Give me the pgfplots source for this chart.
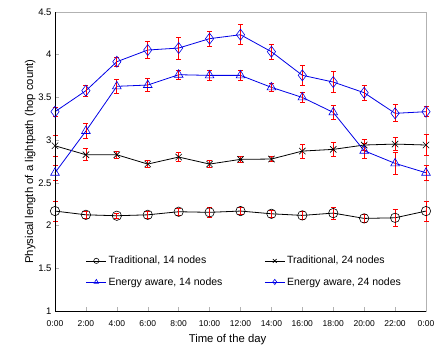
\documentclass[border=0pt]{standalone}
\usepackage{pgfplots}
\pgfplotsset{compat=1.18}
\usepackage{fontspec}
\setmainfont{Liberation Sans}
\definecolor{eblue}{RGB}{0,0,230}
\begin{document}
\begin{tikzpicture}
\begin{axis}[
  scale only axis, width=371pt, height=299pt,
  xmin=0, xmax=12, ymin=1, ymax=4.5,
  xtick={0,...,12},
  xticklabels={0:00,2:00,4:00,6:00,8:00,10:00,12:00,14:00,16:00,18:00,20:00,22:00,0:00},
  ytick={1,1.5,2,2.5,3,3.5,4,4.5},
  yticklabels={1,1.5,2,2.5,3,3.5,4,4.5},
  xtick pos=left, ytick pos=left,
  tick align=inside, major tick length=4pt,
  tick style={gray!60, line width=0.5pt},
  axis line style={gray!60, line width=0.6pt},
  ticklabel style={font=\fontsize{9.5}{10}\selectfont},
  xticklabel style={font=\fontsize{8.5}{10}\selectfont, yshift=-6pt},
  /pgf/number format/assume math mode=true,
  xlabel={Time of the day},
  ylabel={Physical length of a lightpath (hop count)},
  label style={font=\fontsize{11.3}{13}\selectfont},
  xlabel style={yshift=-1pt, xshift=-13pt},
  ylabel style={yshift=-4pt},
  clip=false,
  legend columns=2,
  legend cell align=left,
  legend style={draw=none, fill=none, at={(0.075,0.197)}, anchor=north west,
    font=\fontsize{10.5}{12}\selectfont, row sep=8pt,
    /tikz/every even column/.append style={column sep=40pt}},
  legend image code/.code={%
    \draw[mark repeat=2,mark phase=2,#1] plot coordinates {(0cm,0cm) (0.35cm,0cm) (0.7cm,0cm)};},
  legend image post style={mark size=2.6pt, line width=0.7pt},
  every axis plot/.append style={line width=0.8pt},
  error bars/error bar style={red, line width=0.8pt},
  error bars/error mark options={rotate=90, red, mark size=2.5pt, line width=0.8pt},
]
\addplot[black, mark=o, mark size=4.7pt, mark options={solid, line width=0.6pt},
  error bars/.cd, y dir=both, y explicit]
  table[x=x, y=y, y error=e] {
x y e
0 2.170 0.117
1 2.126 0.040
2 2.115 0.030
3 2.126 0.045
4 2.162 0.040
5 2.155 0.060
6 2.170 0.045
7 2.138 0.040
8 2.119 0.050
9 2.146 0.070
10 2.084 0.050
11 2.091 0.100
12 2.170 0.117
};
\addlegendentry{Traditional, 14 nodes}
\addplot[black, mark=x, mark size=4.5pt, mark options={solid, line width=0.6pt},
  error bars/.cd, y dir=both, y explicit]
  table[x=x, y=y, y error=e] {
x y e
0 2.934 0.120
1 2.829 0.070
2 2.829 0.045
3 2.720 0.040
4 2.802 0.055
5 2.720 0.040
6 2.775 0.030
7 2.779 0.030
8 2.872 0.080
9 2.892 0.085
10 2.943 0.060
11 2.954 0.075
12 2.943 0.120
};
\addlegendentry{Traditional, 24 nodes}
\addplot[eblue, mark=triangle, mark size=5pt, mark options={solid, line width=0.6pt},
  error bars/.cd, y dir=both, y explicit]
  table[x=x, y=y, y error=e] {
x y e
0 2.618 0.090
1 3.107 0.086
2 3.630 0.080
3 3.645 0.080
4 3.766 0.055
5 3.758 0.060
6 3.758 0.060
7 3.618 0.050
8 3.500 0.060
9 3.325 0.080
10 2.876 0.090
11 2.728 0.130
12 2.618 0.090
};
\addlegendentry{Energy aware, 14 nodes}
\addplot[eblue, mark=diamond, mark size=5.5pt, mark options={solid, line width=0.6pt},
  error bars/.cd, y dir=both, y explicit]
  table[x=x, y=y, y error=e] {
x y e
0 3.333 0.050
1 3.579 0.067
2 3.918 0.055
3 4.055 0.100
4 4.078 0.130
5 4.188 0.090
6 4.234 0.117
7 4.035 0.090
8 3.759 0.120
9 3.680 0.120
10 3.555 0.086
11 3.314 0.100
12 3.333 0.060
};
\addlegendentry{Energy aware, 24 nodes}
\draw[black, line width=0.8pt] (rel axis cs:0,1) -- (rel axis cs:0,0) -- (rel axis cs:1,0);
\path ([xshift=-55pt,yshift=-51pt]rel axis cs:0,0) rectangle ([xshift=17pt,yshift=12pt]rel axis cs:1,1);
\end{axis}
\end{tikzpicture}
\end{document}
